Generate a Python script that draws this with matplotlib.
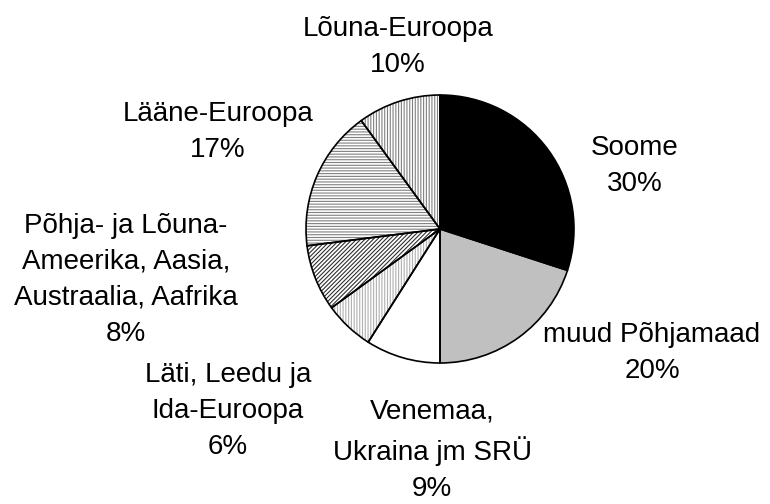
import matplotlib.pyplot as plt

plt.rcParams["font.family"] = ["Liberation Sans", "DejaVu Sans"]
plt.rcParams["hatch.linewidth"] = 0.8

regions = ["Soome", "muud Põhjamaad", "Venemaa,\nUkraina jm SRÜ", "Läti, Leedu ja\nIda-Euroopa",
           "Põhja- ja Lõuna-\nAmeerika, Aasia,\nAustraalia, Aafrika", "Lääne-Euroopa", "Lõuna-Euroopa"]
shares = [30, 20, 9, 6, 8, 17, 10]

colors = ["black", "#c0c0c0", "white", "white", "white", "white", "white"]
hatches = [None, None, None, "||||||", "////////", "------", "||||||"]
hatch_colors = [None, None, None, "#b0b0b0", "#303030", "#808080", "#808080"]

# label centres in pixels (pie centre 440, 229)
label_px = [(635, 166), (652, 353), (432, 450), (228, 411),
            (126, 280), (218, 132), (398, 47)]

cx, cy, r = 440, 229, 134

fig = plt.figure(figsize=(7.7, 5.04), dpi=100)
ax = fig.add_axes([0, 0, 1, 1])

wedges, _ = ax.pie(shares, colors=colors, startangle=90, counterclock=False, radius=1)
for w, h, hc in zip(wedges, hatches, hatch_colors):
    w.set_linewidth(0)
    if h:
        w.set_hatch(h)
        w.set_edgecolor(hc)

# outline on top
ax.pie(shares, startangle=90, counterclock=False, radius=1,
       wedgeprops=dict(facecolor="none", edgecolor="black", linewidth=1.2))

for name, v, (px, py) in zip(regions, shares, label_px):
    ax.text((px - cx) / r, (cy - py) / r, f"{name}\n{v}%", ha="center", va="center",
            fontsize=20, linespacing=1.5)

ax.set_xlim(-cx / r, (770 - cx) / r)
ax.set_ylim((cy - 504) / r, cy / r)
ax.set_aspect("auto")
ax.axis("off")

fig.savefig("out.png", dpi=100)
